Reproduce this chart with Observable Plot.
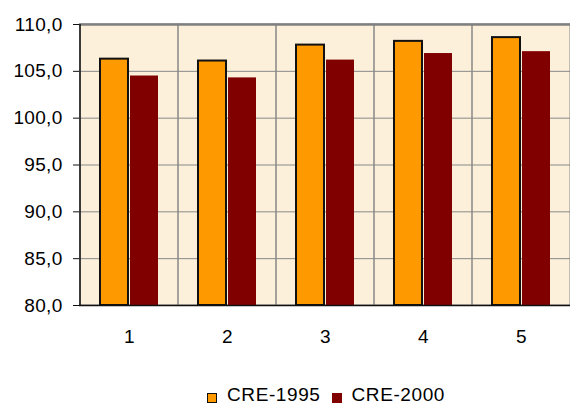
<!DOCTYPE html>
<html><head><meta charset="utf-8">
<script src="https://cdn.jsdelivr.net/npm/d3@7"></script>
<script src="https://cdn.jsdelivr.net/npm/@observablehq/plot@0.6"></script>
<style>
body{margin:0;background:#fff;font-family:"Liberation Sans",Arial,sans-serif;}
#wrap{position:relative;width:570px;height:408px;}
#legend{position:absolute;left:207px;top:384px;display:flex;align-items:center;font-size:19px;letter-spacing:0.6px;color:#000;white-space:nowrap;}
.sw{width:10px;height:10px;display:inline-block;margin-right:10px;margin-top:6px;box-sizing:border-box;}
</style>
</head><body>
<div id="wrap"><div id="chart"></div><div id="legend"></div></div>
<script>
const categories = ["1","2","3","4","5"];
const cre1995 = [106.3, 106.1, 107.8, 108.2, 108.6];
const cre2000 = [104.5, 104.3, 106.2, 106.9, 107.1];
const yTicks = [80, 85, 90, 95, 100, 105, 110];
const seriesNames = ["CRE-1995", "CRE-2000"];
const seriesColors = ["#FF9900", "#800000"];

const d1995 = categories.map((c,i)=>({cat:c, v:cre1995[i]}));
const d2000 = categories.map((c,i)=>({cat:c, v:cre2000[i]}));
const fmt = d => d3.format(".1f")(d).replace(".", ",");

const plot = Plot.plot({
  width: 570, height: 360,
  marginTop: 24, marginBottom: 55, marginLeft: 79, marginRight: 0,
  style: {fontFamily: '"Liberation Sans", Arial, sans-serif', fontSize: "19px", letterSpacing: "0.3px", color: "#000", background: "transparent"},
  x: {domain: categories, padding: 0, label: null},
  y: {domain: [80, 110], label: null},
  marks: [
    Plot.frame({fill: "#FCF0DA", stroke: null}),
    Plot.ruleY(yTicks, {stroke: "#888", strokeWidth: 1}),
    Plot.cell(categories, {x: d => d, fill: "none", stroke: "#888", strokeWidth: 1}),
    Plot.ruleY([110], {stroke: "#808080", strokeWidth: 2.5}),
    Plot.barY(d1995, {x: "cat", y1: 80, y2: "v", fill: seriesColors[0], stroke: "#111", strokeWidth: 2, insetLeft: 20, insetRight: 50}),
    Plot.barY(d2000, {x: "cat", y1: 80, y2: "v", fill: seriesColors[1], insetLeft: 50, insetRight: 20}),
    Plot.ruleY([80], {stroke: "#111", strokeWidth: 1.5}),
    Plot.ruleX([categories[0]], {x: d => d, dx: -49.5, stroke: "#111", strokeWidth: 1.5}),
    Plot.axisY({ticks: yTicks, tickFormat: fmt, tickSize: 6, tickPadding: 11, stroke: "#111", fontSize: 19}),
    Plot.axisX({tickSize: 0, tickPadding: 24, fontSize: 19})
  ]
});
document.getElementById("chart").appendChild(plot);

const lg = document.getElementById("legend");
seriesNames.forEach((n,i)=>{
  const s = document.createElement("span");
  s.className = "sw";
  s.style.background = seriesColors[i];
  s.style.border = i===0 ? "1.5px solid #111" : "none";
  lg.appendChild(s);
  const t = document.createElement("span");
  t.textContent = n;
  t.style.marginRight = i===0 ? "11px" : "0";
  lg.appendChild(t);
});
</script>
</body></html>
